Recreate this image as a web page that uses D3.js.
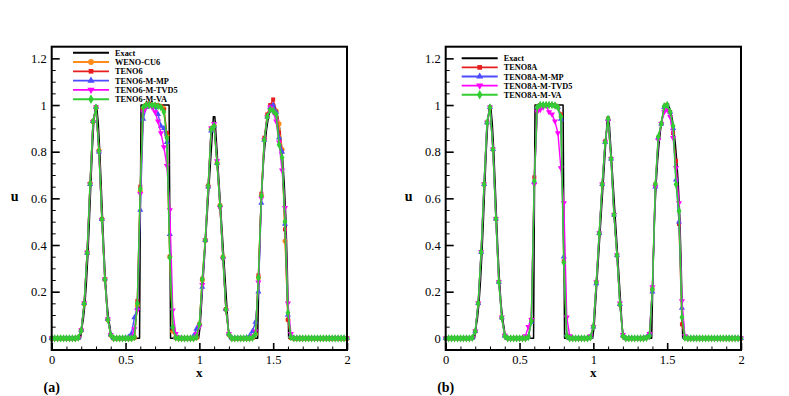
<!DOCTYPE html>
<html>
<head>
<meta charset="utf-8">
<script src="https://cdn.jsdelivr.net/npm/d3@7"></script>
<style>
  body { margin: 0; background: #fff; }
  svg { font-family: "Liberation Serif", "Times New Roman", serif; }
</style>
</head>
<body>
<div class="svgContainer"></div>
<script>
/* grid points (x), same for every scheme */
var gridX = [0,0.02,0.04,0.06,0.08,0.1,0.12,0.14,0.16,0.18,
  0.2,0.22,0.24,0.26,0.28,0.3,0.32,0.34,0.36,0.38,
  0.4,0.42,0.44,0.46,0.48,0.5,0.52,0.54,0.56,0.58,
  0.6,0.62,0.64,0.66,0.68,0.7,0.72,0.74,0.76,0.78,
  0.8,0.82,0.84,0.86,0.88,0.9,0.92,0.94,0.96,0.98,
  1,1.02,1.04,1.06,1.08,1.1,1.12,1.14,1.16,1.18,
  1.2,1.22,1.24,1.26,1.28,1.3,1.32,1.34,1.36,1.38,
  1.4,1.42,1.44,1.46,1.48,1.5,1.52,1.54,1.56,1.58,
  1.6,1.62,1.64,1.66,1.68,1.7,1.72,1.74,1.76,1.78,
  1.8,1.82,1.84,1.86,1.88,1.9,1.92,1.94,1.96,1.98,2];

/* exact solution */
var exactX = [0,0.195,0.205,0.215,0.225,0.235,0.245,0.255,0.265,0.275,0.285,0.295,
  0.305,0.315,0.325,0.335,0.345,0.355,0.365,0.375,0.385,0.395,0.405,
  0.595,0.605,0.795,0.805,
  0.995,1.005,1.095,1.105,1.195,1.205,
  1.395,1.405,1.415,1.425,1.435,1.445,1.455,1.465,1.475,1.485,1.495,
  1.505,1.515,1.525,1.535,1.545,1.555,1.565,1.575,1.585,1.595,1.605,2];
var exactU = [0,0,0.047,0.086,0.148,0.238,0.357,0.502,0.659,0.809,0.926,0.992,
  0.992,0.926,0.809,0.659,0.502,0.357,0.238,0.148,0.086,0.047,0,
  0,1,1,0,
  0,0.05,0.95,0.95,0.05,0,
  0,0.312,0.527,0.661,0.76,0.835,0.893,0.937,0.968,0.989,0.999,
  0.999,0.989,0.968,0.937,0.893,0.835,0.76,0.661,0.527,0.312,0,0];

/* panel (a) */
var wenoCU6 = [0,0,0,0,0,0,0,0,0,0.003,
  0.034,0.148,0.366,0.664,0.928,0.988,0.805,0.51,0.254,0.08,0.014,
  0,0,0,0,0,
  0,0,0.003,0.14,0.63,0.985,1,1,1,1,0.998,0.995,0.985,0.87,0.35,0.03,0.002,0,
  0,0,0,0,
  0,0.003,0.058,0.25,0.42,0.65,0.895,0.91,0.75,0.57,0.35,0.125,0.016,0,
  0,0,0,0,
  0,0,0.002,0.018,0.26,0.61,0.85,0.95,0.985,1,0.975,0.92,0.81,0.417,0.08,0.003,0,
  0,0,0,0,0,0,0,0,0,0,0,0,0,0,0,0,0,0];
var teno6 = [0,0,0,0,0,0,0,0,0,0.002,
  0.035,0.15,0.368,0.662,0.93,0.99,0.802,0.512,0.252,0.082,0.014,
  0,0,0,0,0,
  0,0,0.004,0.16,0.65,0.98,1,1.005,1,1,0.998,0.995,0.98,0.88,0.35,0.04,0.002,0,
  0,0,0,0,
  0,0.004,0.06,0.255,0.42,0.655,0.9,0.915,0.752,0.565,0.345,0.125,0.017,0,
  0,0,0,0,
  0,0,0.002,0.02,0.27,0.62,0.86,0.96,1,1.024,0.97,0.88,0.8,0.467,0.08,0.003,0,
  0,0,0,0,0,0,0,0,0,0,0,0,0,0,0,0,0,0];
var teno6MP = [0,0,0,0,0,0,0,0,0,0.003,
  0.036,0.15,0.366,0.66,0.93,0.99,0.8,0.51,0.255,0.083,0.016,
  0,0,0,0,0.002,
  0.006,0.02,0.089,0.13,0.55,0.94,0.99,1,0.995,0.99,0.96,0.91,0.9,0.84,0.446,0.05,0.005,0,
  0,0,0,0,
  0.01,0.04,0.06,0.22,0.42,0.65,0.89,0.91,0.75,0.57,0.35,0.125,0.02,0.002,
  0,0,0,0,
  0.003,0.01,0.03,0.07,0.2,0.58,0.85,0.95,0.99,1,0.97,0.86,0.8,0.49,0.1,0.01,0,
  0,0,0,0,0,0,0,0,0,0,0,0,0,0,0,0,0,0];
var teno6TVD5 = [0,0,0,0,0,0,0,0,0,0.003,
  0.035,0.15,0.368,0.662,0.928,0.99,0.8,0.508,0.253,0.082,0.015,
  0,0,0,0,0,
  0,0.005,0.04,0.12,0.62,0.97,0.99,1,0.99,0.97,0.93,0.88,0.82,0.74,0.55,0.12,0.02,0.005,
  0,0,0,0,
  0.003,0.02,0.05,0.23,0.42,0.65,0.9,0.92,0.76,0.56,0.34,0.12,0.02,0.002,
  0,0,0,0,
  0,0.003,0.01,0.03,0.24,0.6,0.85,0.95,0.99,0.97,0.93,0.84,0.72,0.56,0.15,0.02,0,
  0,0,0,0,0,0,0,0,0,0,0,0,0,0,0,0,0,0];
var teno6VA = [0,0,0,0,0,0,0,0,0,0.003,
  0.034,0.149,0.367,0.663,0.929,0.989,0.803,0.51,0.253,0.081,0.014,
  0,0,0,0,0,
  0,0,0.005,0.149,0.64,0.99,1,1,1,0.998,0.995,0.99,0.97,0.86,0.346,0.047,0.003,0,
  0,0,0,0,
  0,0.005,0.06,0.253,0.421,0.653,0.896,0.91,0.75,0.567,0.346,0.124,0.017,0,
  0,0,0,0,
  0,0,0.002,0.017,0.26,0.61,0.85,0.95,0.98,0.975,0.96,0.83,0.775,0.5,0.11,0.005,0,
  0,0,0,0,0,0,0,0,0,0,0,0,0,0,0,0,0,0];

/* panel (b) */
var teno8A = [0,0,0,0,0,0,0,0,0,0.002,
  0.03,0.15,0.37,0.66,0.925,0.99,0.81,0.512,0.242,0.088,0.011,
  0,0,0,0,0,
  0,0,0.006,0.08,0.69,0.99,1,1,1,1,1,0.998,0.99,0.96,0.33,0.012,0,0,
  0,0,0,0,
  0,0.004,0.05,0.24,0.45,0.66,0.845,0.94,0.77,0.53,0.355,0.145,0.01,0,
  0,0,0,0,
  0,0,0.003,0.015,0.21,0.66,0.86,0.92,0.99,1,0.97,0.88,0.76,0.49,0.06,0.002,0,
  0,0,0,0,0,0,0,0,0,0,0,0,0,0,0,0,0,0];
var teno8AMP = [0,0,0,0,0,0,0,0,0,0.002,
  0.031,0.15,0.369,0.66,0.925,0.99,0.81,0.513,0.242,0.089,0.011,
  0,0,0,0,0,
  0,0,0.008,0.07,0.67,0.99,1,1,1,1,1,0.998,0.99,0.94,0.35,0.015,0,0,
  0,0,0,0,
  0,0.006,0.05,0.235,0.45,0.66,0.84,0.94,0.77,0.53,0.356,0.146,0.012,0,
  0,0,0,0,
  0,0.002,0.005,0.02,0.2,0.65,0.86,0.92,0.99,1,0.97,0.9,0.68,0.5,0.13,0.005,0,
  0,0,0,0,0,0,0,0,0,0,0,0,0,0,0,0,0,0];
var teno8ATVD5 = [0,0,0,0,0,0,0,0,0,0.002,
  0.03,0.15,0.37,0.66,0.925,0.99,0.81,0.513,0.241,0.09,0.012,
  0,0,0,0,0,
  0,0.01,0.05,0.08,0.66,0.97,0.98,0.99,1,0.97,0.96,0.93,0.88,0.73,0.58,0.09,0.01,0,
  0,0,0,0,
  0.002,0.01,0.05,0.24,0.45,0.66,0.84,0.93,0.77,0.53,0.356,0.15,0.015,0,
  0,0,0,0,
  0,0,0.004,0.02,0.22,0.65,0.85,0.92,0.97,0.98,0.95,0.86,0.73,0.58,0.16,0.01,0,
  0,0,0,0,0,0,0,0,0,0,0,0,0,0,0,0,0,0];
var teno8AVA = [0,0,0,0,0,0,0,0,0,0.002,
  0.03,0.15,0.37,0.66,0.925,0.99,0.81,0.513,0.241,0.089,0.01,
  0,0,0,0,0,
  0,0,0.005,0.074,0.674,0.99,1,1,1,1,1,0.998,0.99,0.95,0.325,0.01,0,0,
  0,0,0,0,
  0,0.004,0.05,0.24,0.45,0.66,0.84,0.94,0.77,0.53,0.356,0.146,0.01,0,
  0,0,0,0,
  0,0,0.002,0.01,0.21,0.66,0.864,0.92,0.995,1,0.97,0.91,0.66,0.546,0.09,0.002,0,
  0,0,0,0,0,0,0,0,0,0,0,0,0,0,0,0,0,0];

/* axis ticks */
var xTicks = [0, 0.5, 1, 1.5, 2];
var xMinor = [0.1,0.2,0.3,0.4,0.6,0.7,0.8,0.9,1.1,1.2,1.3,1.4,1.6,1.7,1.8,1.9];
var yTicks = [0, 0.2, 0.4, 0.6, 0.8, 1, 1.2];
var yMinor = [0.05,0.1,0.15,0.25,0.3,0.35,0.45,0.5,0.55,0.65,0.7,0.75,0.85,0.9,0.95,1.05,1.1,1.15];

var canvas_width = 789,
    canvas_height = 396;

var svg = d3.select(".svgContainer")
  .append("svg")
    .attr("width", canvas_width)
    .attr("height", canvas_height);

/* plotting area, shared by both panels */
var top_y = 46.7, bottom_y = 350;
var y = d3.scaleLinear().domain([-0.05, 1.25]).range([bottom_y, top_y]);

function drawPanel(left, right, tag, series, legendX, legendY, legendDy) {
  var x = d3.scaleLinear().domain([0, 2]).range([left, right]);
  var g = svg.append("g");

  /* minor ticks first, then majors with labels */
  g.append("g")
    .attr("transform", "translate(0," + bottom_y + ")")
    .call(d3.axisBottom(x).tickValues(xMinor).tickSize(-3.5).tickFormat(""))
    .call(function(s) { s.select(".domain").remove(); });
  g.append("g")
    .attr("transform", "translate(" + left + ",0)")
    .call(d3.axisLeft(y).tickValues(yMinor).tickSize(-4).tickFormat(""))
    .call(function(s) { s.select(".domain").remove(); });

  var xa = g.append("g")
    .attr("transform", "translate(0," + bottom_y + ")")
    .call(d3.axisBottom(x).tickValues(xTicks).tickSize(-7).tickPadding(5).tickFormat(d3.format("~g")));
  xa.select(".domain").remove();
  xa.selectAll("line").attr("stroke-width", 1.6);
  xa.selectAll("text").attr("font-size", 12.5).attr("font-family", "Liberation Serif, serif").attr("dy", "0.68em");

  var ya = g.append("g")
    .attr("transform", "translate(" + left + ",0)")
    .call(d3.axisLeft(y).tickValues(yTicks).tickSize(-8).tickPadding(5).tickFormat(d3.format("~g")));
  ya.select(".domain").remove();
  ya.selectAll("line").attr("stroke-width", 1.6);
  ya.selectAll("text").attr("font-size", 12.5).attr("font-family", "Liberation Serif, serif");

  /* curves */
  var line = d3.line()
    .x(function(d) { return x(d[0]); })
    .y(function(d) { return y(d[1]); });

  series.forEach(function(s) {
    var pts = s.xs.map(function(v, i) { return [v, s.ys[i]]; });
    g.append("path")
      .attr("d", line(pts))
      .attr("fill", "none")
      .attr("stroke", s.color)
      .attr("stroke-width", s.width)
      .attr("stroke-linejoin", "round");
    if (s.symbol) {
      g.selectAll(null)
        .data(pts)
        .enter()
        .append("path")
          .attr("d", d3.symbol().type(s.symbol).size(s.size))
          .attr("transform", function(d) {
            return "translate(" + x(d[0]) + "," + y(d[1]) + ")" + (s.flip ? " rotate(180)" : "");
          })
          .attr("fill", s.color);
    }
  });

  /* frame */
  g.append("rect")
    .attr("x", left).attr("y", top_y)
    .attr("width", right - left).attr("height", bottom_y - top_y)
    .attr("fill", "none").attr("stroke", "#000").attr("stroke-width", 2);

  /* legend */
  series.forEach(function(s, i) {
    var ly = legendY + i * legendDy;
    g.append("line")
      .attr("x1", legendX).attr("x2", legendX + 36)
      .attr("y1", ly).attr("y2", ly)
      .attr("stroke", s.color).attr("stroke-width", s.width + 0.4);
    if (s.symbol) {
      g.append("path")
        .attr("d", d3.symbol().type(s.symbol).size(s.size + 6))
        .attr("transform", "translate(" + (legendX + 18) + "," + ly + ")" + (s.flip ? " rotate(180)" : ""))
        .attr("fill", s.color);
    }
    g.append("text")
      .attr("x", legendX + 42).attr("y", ly + 3)
      .attr("font-size", 8.3).attr("font-weight", "bold")
      .text(s.name);
  });

  /* axis titles */
  g.append("text")
    .attr("x", (left + right) / 2).attr("y", 377)
    .attr("text-anchor", "middle").attr("font-size", 13).attr("font-weight", "bold")
    .text("x");
  g.append("text")
    .attr("x", left - 37).attr("y", (top_y + bottom_y) / 2 + 3)
    .attr("text-anchor", "middle").attr("font-size", 14).attr("font-weight", "bold")
    .text("u");
  g.append("text")
    .attr("x", left).attr("y", 392)
    .attr("text-anchor", "middle").attr("font-size", 14).attr("font-weight", "bold")
    .text(tag);
}

var exact = { name: "Exact", xs: exactX, ys: exactU, color: "#000", width: 1.5 };

drawPanel(51.7, 347, "(a)", [
  exact,
  { name: "WENO-CU6", xs: gridX, ys: wenoCU6, color: "#ff8c1a", width: 1.4, symbol: d3.symbolCircle, size: 20 },
  { name: "TENO6", xs: gridX, ys: teno6, color: "#e61e1e", width: 1.4, symbol: d3.symbolSquare, size: 16 },
  { name: "TENO6-M-MP", xs: gridX, ys: teno6MP, color: "#4d4dff", width: 1.4, symbol: d3.symbolTriangle, size: 16 },
  { name: "TENO6-M-TVD5", xs: gridX, ys: teno6TVD5, color: "#ff00ff", width: 1.4, symbol: d3.symbolTriangle, size: 16, flip: true },
  { name: "TENO6-M-VA", xs: gridX, ys: teno6VA, color: "#33cc33", width: 1.6, symbol: d3.symbolDiamond, size: 20 }
], 73, 52.7, 9.3);

drawPanel(445.7, 741, "(b)", [
  exact,
  { name: "TENO8A", xs: gridX, ys: teno8A, color: "#e61e1e", width: 1.4, symbol: d3.symbolSquare, size: 16 },
  { name: "TENO8A-M-MP", xs: gridX, ys: teno8AMP, color: "#4d4dff", width: 1.4, symbol: d3.symbolTriangle, size: 16 },
  { name: "TENO8A-M-TVD5", xs: gridX, ys: teno8ATVD5, color: "#ff00ff", width: 1.4, symbol: d3.symbolTriangle, size: 16, flip: true },
  { name: "TENO8A-M-VA", xs: gridX, ys: teno8AVA, color: "#33cc33", width: 1.6, symbol: d3.symbolDiamond, size: 20 }
], 461.7, 58.3, 9.1);
</script>
</body>
</html>
